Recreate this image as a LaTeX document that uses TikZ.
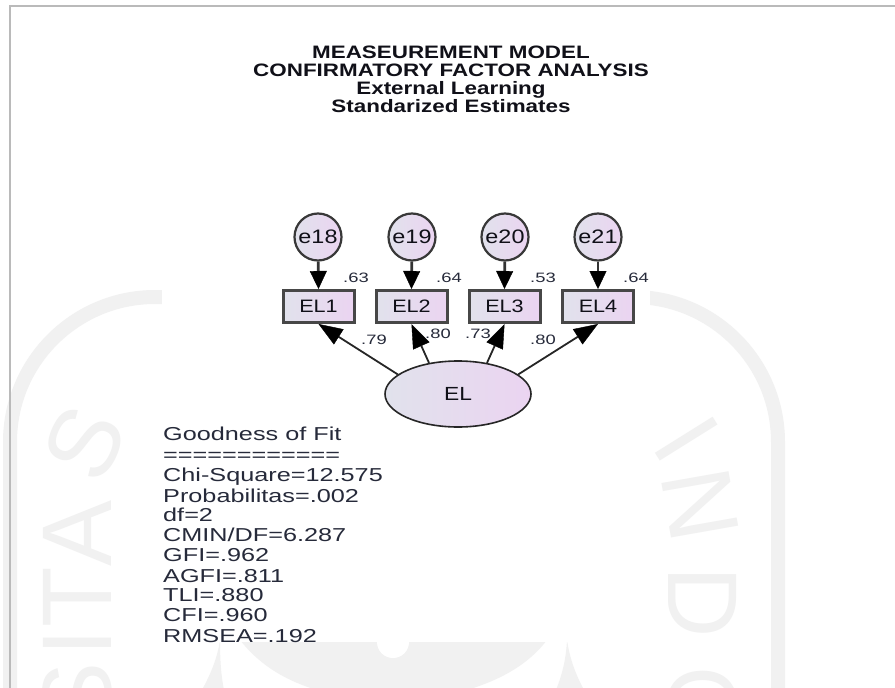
\documentclass[tikz,border=0pt]{standalone}
\usepackage{fontspec}
\usetikzlibrary{arrows.meta,shapes.geometric}
\setmainfont{Liberation Sans}
\newfontfamily\wide[FakeStretch=1.2]{Liberation Sans}
\newfontfamily\wider[FakeStretch=1.35]{Liberation Sans}
\newfontfamily\titlef[FakeStretch=1.245]{Liberation Sans Bold}
\definecolor{wm}{HTML}{F1F1F1}
\definecolor{ink}{HTML}{101018}
\definecolor{lab}{HTML}{262A3A}
\definecolor{fillA}{HTML}{E1E2EC}
\definecolor{fillB}{HTML}{EBD4F1}
\tikzset{
  varfill/.style={left color=fillA,right color=fillB,shading angle=90},
  errc/.style={circle,draw=black!78,line width=2.2pt,minimum size=47pt,inner sep=0pt,varfill,font=\wide\fontsize{19.5}{19.5}\selectfont,text=ink},
  obsbox/.style={rectangle,draw=black!72,line width=3pt,minimum width=71pt,minimum height=32pt,inner sep=0pt,varfill,font=\wide\fontsize{18}{18}\selectfont,text=ink},
  latent/.style={ellipse,draw=black!85,line width=1.6pt,minimum width=146pt,minimum height=66pt,inner sep=0pt,varfill,font=\wide\fontsize{19}{19}\selectfont,text=ink},
  errarrow/.style={line width=2.8pt,draw=black!80,-{Triangle[length=18pt,width=17pt,color=black,fill=black,line width=0.4pt]}},
  loadarrow/.style={line width=1.8pt,draw=black!85,-{Triangle[length=24pt,width=18pt,color=black,fill=black,line width=0.4pt]}},
  coef/.style={font=\wider\fontsize{13.6}{13.6}\selectfont,text=lab,inner sep=0pt},
  stat/.style={font=\wider\fontsize{18.7}{18.7}\selectfont,text=lab,anchor=west,inner sep=0pt,text height=13.4pt,text depth=0pt},
  ttl/.style={font=\titlef\fontsize{18}{18}\selectfont,text=ink,inner sep=0pt,text height=12.9pt,text depth=0pt},
  wmark/.style={font=\fontsize{99}{99}\selectfont,text=wm,inner sep=0pt},
}
\begin{document}
\begin{tikzpicture}[x=1pt,y=-1pt]
\useasboundingbox (0,0) rectangle (895,688);
\fill[white] (0,0) rectangle (895,688);
% watermark
\begin{scope}
\clip (0,0) rectangle (895,688);
\draw[wm,line width=14pt] (10,720) -- (10,442) arc[start angle=180,end angle=270,radius=145] -- (633,297) arc[start angle=270,end angle=360,radius=145] -- (778,720);
\node[wmark,rotate=-58] (wI) at (687,439) {I};
\node[wmark,rotate=-80] (wN) at (700,505) {N};
\node[wmark,rotate=-90] (wD) at (703,602) {D};
\node[wmark,rotate=-90] (wO) at (703,705) {O};
\node[wmark,rotate=65] (wS) at (85,443) {S};
\node[wmark,rotate=90] (wA) at (77,533) {A};
\node[wmark,rotate=90] (wT) at (77,597) {T};
\node[wmark,rotate=90] (wI2) at (77,643) {I};
\node[wmark,rotate=90] (wS2) at (77,695) {S};
\fill[wm] (240,640) .. controls (262,668) and (290,682) .. (317,690) -- (467,690) .. controls (500,680) and (528,665) .. (547,640) -- cycle;
\fill[wm] (220,640) .. controls (217,660) and (210,675) .. (202,690) -- (224,690) .. controls (221,675) and (220,660) .. (220,640) -- cycle;
\fill[wm] (567,640) .. controls (570,660) and (576,675) .. (584,690) -- (556,690) .. controls (562,675) and (566,660) .. (567,640) -- cycle;
\fill[white] (162,200) rectangle (650,642);
\fill[white] (393,642) circle[radius=16];
\end{scope}
% frame
\draw[black!27,line width=2pt] (10,688) -- (10,5.5) -- (895,5.5);
% title
\node[ttl] (t1) at (451,52) {MEASEUREMENT MODEL};
\node[ttl] (t2) at (451,70) {CONFIRMATORY FACTOR ANALYSIS};
\node[ttl] (t3) at (451,88) {External Learning};
\node[ttl] (t4) at (451,106) {Standarized Estimates};
% nodes
\node[errc] (e18) at (318,237) {e18};
\node[errc] (e19) at (412,237) {e19};
\node[errc] (e20) at (505,237) {e20};
\node[errc] (e21) at (598,237) {e21};
\node[obsbox] (EL1) at (318.5,306.5) {EL1};
\node[obsbox] (EL2) at (411.5,306.5) {EL2};
\node[obsbox] (EL3) at (504.5,306.5) {EL3};
\node[obsbox] (EL4) at (598,306.5) {EL4};
\node[latent] (EL) at (458,394) {EL};
% connectors
\draw[errarrow] (e18) -- (EL1.north);
\draw[errarrow] (e19) -- (EL2.north);
\draw[errarrow] (e20) -- (EL3.north);
\draw[errarrow] (e21) -- (EL4.north);
\draw[loadarrow] (EL.162) -- (EL1.south);
\draw[loadarrow] (EL.133) -- (EL2.south);
\draw[loadarrow] (EL.47) -- (EL3.south);
\draw[loadarrow] (EL.18) -- (EL4.south);
% coefficients
\node[coef] (c1) at (356,278) {.63};
\node[coef] (c2) at (449,278) {.64};
\node[coef] (c3) at (543,278) {.53};
\node[coef] (c4) at (636,278) {.64};
\node[coef] (l1) at (374,340) {.79};
\node[coef] (l2) at (438,334) {.80};
\node[coef] (l3) at (478,334) {.73};
\node[coef] (l4) at (543,340) {.80};
% fit
\begin{scope}
\clip (150,420) rectangle (420,642);
\node[stat] (s0) at (163,434) {Goodness of Fit};
\node[stat] (s1) at (163,455) {============};
\node[stat] (s2) at (163,475) {Chi-Square=12.575};
\node[stat] (s3) at (163,496) {Probabilitas=.002};
\node[stat] (s4) at (163,515) {df=2};
\node[stat] (s5) at (163,535) {CMIN/DF=6.287};
\node[stat] (s6) at (163,555) {GFI=.962};
\node[stat] (s7) at (163,576) {AGFI=.811};
\node[stat] (s8) at (163,595) {TLI=.880};
\node[stat] (s9) at (163,615) {CFI=.960};
\node[stat] (s10) at (163,636) {RMSEA=.192};
\end{scope}
\end{tikzpicture}
\end{document}
